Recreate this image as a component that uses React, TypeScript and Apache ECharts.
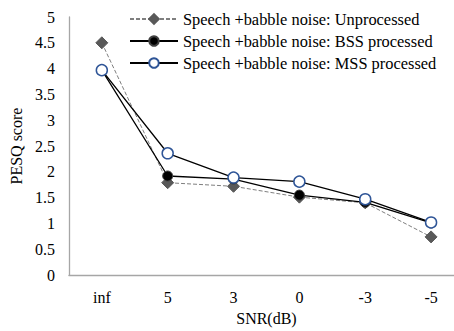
import React, { useEffect, useRef } from "react";
import * as echarts from "echarts";

const categories = ["inf", "5", "3", "0", "-3", "-5"];
const unprocessed = [4.5, 1.79, 1.72, 1.51, 1.4, 0.74];
const bssProcessed = [3.97, 1.92, 1.86, 1.55, 1.41, 1.01];
const mssProcessed = [3.97, 2.36, 1.89, 1.81, 1.47, 1.02];
const seriesNames = [
  "Speech +babble noise: Unprocessed",
  "Speech +babble noise: BSS processed",
  "Speech +babble noise: MSS processed",
];

const FONT = "'Liberation Serif', 'Times New Roman', serif";

export default function App() {
  const ref = useRef<HTMLDivElement>(null);
  useEffect(() => {
    if (!ref.current) return;
    const chart = echarts.init(ref.current, undefined, { renderer: "svg" });
    chart.setOption({
      animation: false,
      backgroundColor: "#ffffff",
      textStyle: { fontFamily: FONT, color: "#000" },
      grid: { left: 68, top: 17, width: 396, height: 263, containLabel: false },
      legend: {
        orient: "vertical",
        left: 124,
        top: 6,
        itemWidth: 48,
        itemHeight: 12,
        itemGap: 6,
        textStyle: { fontFamily: FONT, fontSize: 16.4, color: "#000" },
        data: seriesNames,
      },
      xAxis: {
        type: "category",
        data: categories,
        boundaryGap: true,
        name: "SNR(dB)",
        nameLocation: "middle",
        nameGap: 32,
        nameTextStyle: { fontFamily: FONT, fontSize: 16, color: "#000" },
        axisLine: { lineStyle: { color: "#a6a6a6", width: 1.3 } },
        axisTick: { show: false },
        axisLabel: { fontFamily: FONT, fontSize: 16, color: "#000", margin: 14 },
      },
      yAxis: {
        type: "value",
        min: 0,
        max: 5,
        interval: 0.5,
        name: "PESQ score",
        nameLocation: "middle",
        nameGap: 42,
        nameTextStyle: { fontFamily: FONT, fontSize: 16, color: "#000" },
        axisLine: { show: true, lineStyle: { color: "#a6a6a6", width: 1.3 } },
        axisTick: { show: false },
        splitLine: { show: false },
        axisLabel: { fontFamily: FONT, fontSize: 16, color: "#000", margin: 14 },
      },
      series: [
        {
          name: seriesNames[0],
          type: "line",
          data: unprocessed,
          symbol: "diamond",
          symbolSize: 12,
          z: 2,
          lineStyle: { color: "#7f7f7f", width: 1, type: [4, 2] },
          itemStyle: { color: "#595959", borderColor: "#595959", borderWidth: 1 },
        },
        {
          name: seriesNames[1],
          type: "line",
          data: bssProcessed,
          symbol: "circle",
          symbolSize: 10,
          z: 3,
          lineStyle: { color: "#000", width: 1.3 },
          itemStyle: { color: "#000", borderColor: "#404040", borderWidth: 1 },
        },
        {
          name: seriesNames[2],
          type: "line",
          data: mssProcessed,
          symbol: "circle",
          symbolSize: 11,
          z: 4,
          lineStyle: { color: "#000", width: 1.3 },
          itemStyle: { color: "#ffffff", borderColor: "#2f5597", borderWidth: 1.5 },
        },
      ],
    });
    return () => chart.dispose();
  }, []);
  return (
    <div
      style={{
        position: "fixed",
        left: 0,
        top: 0,
        width: 454,
        height: 331,
        overflow: "hidden",
        background: "#fff",
      }}
    >
      <div ref={ref} style={{ width: 480, height: 331 }} />
    </div>
  );
}
